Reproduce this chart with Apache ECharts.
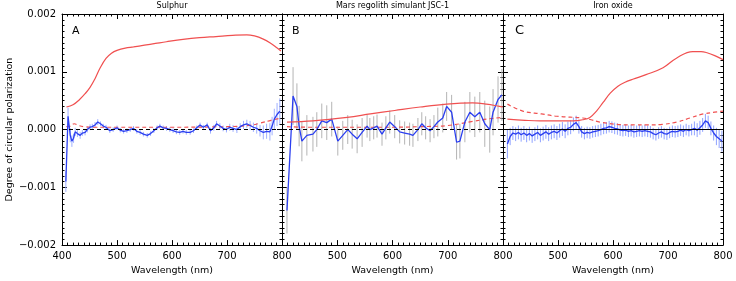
<!DOCTYPE html>
<html><head><meta charset="utf-8">
<script src="https://cdn.jsdelivr.net/npm/echarts@6/dist/echarts.min.js"></script>
<style>html,body{margin:0;padding:0;background:#fff}#c{width:736px;height:281px}</style>
</head><body><div id="c"></div><script>
// values in units of 1e-4 (degree of circular polarization)
const panelTitles = ['Sulphur', 'Mars regolith simulant JSC-1', 'Iron oxide'];
const panelLetters = ['A', 'B', 'C'];
const xTicks = [400, 500, 600, 700, 800];
const yTicks = [-20, -10, 0, 10, 20];

// [wavelength, value, error]
const aBlue = [[407,-9,1.8],[411,2.3,1.5],[415,-1,1.2],[418,-2,1.0],[421,-1.5,0.8],[424,-0.4,0.7],[428,-0.7,0.6],[433,-1,0.6],[437,-0.6,0.5],[442,-0.5,0.5],[446,0,0.5],[451,0.4,0.5],[455,0.5,0.5],[460,0.8,0.5],[465,1.3,0.5],[470,1,0.4],[475,0.6,0.4],[480,0.4,0.4],[487,-0.2,0.4],[493,0,0.4],[500,0.3,0.4],[506,-0.1,0.4],[512,-0.3,0.4],[518,-0.2,0.4],[524,0,0.4],[530,0.2,0.4],[536,-0.3,0.4],[542,-0.5,0.4],[548,-0.8,0.4],[555,-1,0.4],[561,-0.7,0.4],[567,-0.2,0.4],[573,0.3,0.4],[578,0.6,0.4],[584,0.3,0.4],[590,0.2,0.4],[596,0,0.4],[602,-0.2,0.4],[608,-0.4,0.4],[614,-0.5,0.4],[620,-0.3,0.4],[626,-0.5,0.4],[633,-0.5,0.4],[639,-0.2,0.4],[645,0.3,0.4],[651,0.8,0.4],[657,0.4,0.4],[664,0.8,0.4],[670,-0.2,0.5],[676,0.3,0.5],[681,1,0.5],[687,0.6,0.5],[693,0.2,0.5],[699,0,0.5],[705,0.4,0.6],[711,0.2,0.6],[718,0,0.6],[724,0.5,0.6],[730,0.8,0.7],[736,1,0.7],[742,0.7,0.8],[748,0.4,0.8],[754,0.2,0.9],[760,-0.2,1.0],[766,-0.5,1.2],[772,-0.3,1.3],[778,-0.4,1.5],[782,0.6,1.6],[786,1.8,1.8],[791,2.6,2.0],[796,3.2,2.2]];
const aRed = [[408,3.9],[420,4.3],[432,5.2],[442,6.2],[451,7.3],[460,8.8],[469,10.6],[480,12.3],[490,13.2],[500,13.7],[515,14.1],[530,14.3],[550,14.6],[570,14.9],[590,15.2],[620,15.6],[650,15.9],[680,16.1],[710,16.3],[736,16.4],[750,16.2],[765,15.7],[780,14.9],[790,14.2],[798,13.6]];
const aRedDash = [[408,0.5],[415,0.6],[422,1.0],[430,0.7],[440,0.5],[460,0.4],[500,0.4],[600,0.4],[700,0.5],[740,0.7],[760,1.1],[780,1.6],[798,2.0]];

const bBlue = [[409,-14,4],[420,5.8,5],[427,4,4],[431,0.6,3.5],[436,-2,3.5],[445,-1,3.5],[456,-0.8,3],[463,0,3],[472,1.5,3],[481,1.2,3],[490,1.8,3],[501,-2,2.5],[510,-1,2.5],[519,0,2.5],[527,-0.8,2.5],[536,-1.6,2.5],[545,-0.5,2.5],[554,0.6,2],[559,0,2],[566,0.3,2],[572,0.6,2],[581,-0.8,2],[588,0.3,2],[595,1.3,2],[604,0.5,2],[613,-0.4,2],[622,-0.6,2],[631,-0.8,2],[637,-1,2],[646,0,2],[653,1,2],[660,0.3,2],[668,-0.2,2],[675,0.5,2],[682,1.3,2.5],[691,2,2.5],[698,4,2.5],[707,3,3],[716,-2.2,3],[722,-2,3],[731,1.3,3.5],[740,3,3.5],[749,2.2,3.5],[758,3,3.5],[767,1,4],[776,0,4],[782,3,4],[791,5.2,4],[798,6,4.5]];
const bRed = [[409,1.3],[456,1.5],[518,2.1],[560,2.7],[604,3.3],[650,3.9],[698,4.4],[745,4.6],[770,4.4],[794,4.0],[800,3.9]];
const bRedDash = [[409,0.5],[450,0.4],[500,0.4],[600,0.4],[650,0.5],[700,0.7],[745,1.4],[770,1.8],[798,2.1]];

const cBlue = [[408,-2.5,2.5],[413,-1.2,1.5],[418,-0.6,1.2],[423,-0.8,1.2],[428,-0.5,1.2],[433,-0.9,1.2],[438,-0.6,1.2],[443,-1.0,1.2],[448,-0.7,1.2],[453,-1.1,1.2],[458,-0.8,1.2],[463,-0.5,1.2],[468,-1.0,1.2],[473,-0.7,1.2],[478,-0.4,1.2],[483,-0.8,1.2],[488,-0.5,1.2],[493,-0.3,1.2],[498,-0.6,1.2],[503,-0.2,1.2],[508,0.1,1.2],[513,-0.3,1.2],[518,0.2,1.2],[523,0.4,1.2],[528,0.9,1.2],[533,1.2,1.2],[538,0.5,1.2],[543,-0.4,1.0],[548,-0.7,1.0],[553,-0.5,1.0],[558,-0.6,1.0],[563,-0.4,1.0],[568,-0.3,1.0],[573,-0.2,1.0],[578,0,1.0],[583,0.2,1.0],[588,0.3,1.0],[593,0.5,1.0],[598,0.4,1.0],[603,0.2,1.0],[608,0.1,1.0],[613,-0.1,1.0],[618,-0.2,1.0],[623,-0.1,1.0],[628,-0.3,1.0],[633,-0.2,1.0],[638,-0.4,1.0],[643,-0.3,1.0],[648,-0.2,1.0],[653,-0.3,1.0],[658,-0.2,1.0],[663,-0.3,1.0],[668,-0.4,1.0],[673,-0.7,1.0],[678,-0.9,1.0],[683,-0.6,1.0],[688,-0.4,1.0],[693,-0.7,1.0],[698,-0.8,1.0],[703,-0.5,1.0],[708,-0.3,1.0],[713,-0.4,1.0],[718,-0.3,1.0],[723,-0.1,1.0],[728,-0.3,1.0],[733,0,1.0],[738,-0.2,1.0],[743,0,1.0],[748,0.2,1.2],[753,-0.1,1.2],[758,0.3,1.2],[763,0.8,1.2],[768,1.5,1.2],[773,1.2,1.2],[778,0.2,1.2],[783,-0.6,1.3],[788,-1.2,1.5],[793,-1.6,1.6],[798,-2,1.8]];
const cRed = [[408,1.8],[440,1.6],[467,1.5],[500,1.5],[527,1.5],[545,1.7],[558,2.1],[570,3.2],[582,4.7],[595,6.3],[609,7.5],[622,8.2],[636,8.7],[660,9.5],[691,10.7],[716,12.4],[745,13.5],[760,13.5],[771,13.3],[785,12.8],[800,12.1]];
const cRedDash = [[408,4.4],[436,3.2],[470,2.7],[498,2.3],[545,2.0],[560,1.7],[576,1.3],[607,0.9],[640,0.8],[662,0.8],[690,0.9],[716,1.3],[740,2.0],[764,2.7],[785,3.0],[800,3.2]];

const panels = [
  {blue: aBlue, red: aRed, redDash: aRedDash, errColor: '#9fb0ff', zeroType: [4,3]},
  {blue: bBlue, red: bRed, redDash: bRedDash, errColor: '#b4b4b4', zeroType: [4,3]},
  {blue: cBlue, red: cRed, redDash: cRedDash, errColor: '#8fa2ff', zeroType: 'solid'}
];

const FONT = 'DejaVu Sans';
const grids = [
  {left: 62, top: 14, width: 220, height: 233},
  {left: 282, top: 14, width: 221, height: 233},
  {left: 503, top: 14, width: 220, height: 233}
];

function xAx(i, pos) {
  const bottom = pos === 'bottom';
  return {
    gridIndex: i, type: 'value', min: xTicks[0], max: xTicks[xTicks.length-1], interval: 100, position: pos,
    axisLine: {show: true, onZero: false, lineStyle: {color: '#000', width: 1}},
    axisTick: {show: true, inside: true, length: 5, lineStyle: {color: '#000'}},
    minorTick: {show: true, splitNumber: 10, length: 2.5, lineStyle: {color: '#000'}},
    splitLine: {show: false},
    axisLabel: {show: bottom, color: '#000', fontSize: 10, fontFamily: FONT, margin: 6,
      showMinLabel: i === 0, showMaxLabel: true},
    name: bottom ? 'Wavelength (nm)' : '', nameLocation: 'middle', nameGap: 20,
    nameTextStyle: {color: '#000', fontSize: 9.5, fontFamily: FONT}
  };
}
function yAx(i, pos) {
  const left = pos === 'left';
  return {
    gridIndex: i, type: 'value', min: yTicks[0], max: yTicks[yTicks.length-1], interval: 10, position: pos,
    axisLine: {show: true, onZero: false, lineStyle: {color: '#000', width: 1}},
    axisTick: {show: true, inside: true, length: 5, lineStyle: {color: '#000'}},
    minorTick: {show: true, splitNumber: 10, length: 2.5, lineStyle: {color: '#000'}},
    splitLine: {show: false},
    axisLabel: {show: left && i === 0, color: '#000', fontSize: 10, fontFamily: FONT, margin: 6,
      formatter: v => (v < 0 ? '\u2212' : '') + (Math.abs(v) / 10000).toFixed(3)},
    name: (left && i === 0) ? 'Degree of circular polarization' : '', nameLocation: 'middle', nameGap: 47,
    nameTextStyle: {color: '#000', fontSize: 9.5, fontFamily: FONT}
  };
}

const xAxis = [0,1,2].map(i => xAx(i, 'bottom')).concat([0,1,2].map(i => xAx(i, 'top')));
const yAxis = [0,1,2].map(i => yAx(i, 'left')).concat([0,1,2].map(i => yAx(i, 'right')));

const series = [];
panels.forEach((p, i) => {
  series.push({
    type: 'custom', xAxisIndex: i, yAxisIndex: i, clip: true, silent: true,
    data: p.blue.map(r => [r[0], r[1] - r[2], r[1] + r[2]]),
    encode: {x: 0, y: [1, 2]},
    renderItem: (params, api) => {
      const a = api.coord([api.value(0), api.value(1)]);
      const b = api.coord([api.value(0), api.value(2)]);
      return {type: 'line', shape: {x1: a[0], y1: a[1], x2: b[0], y2: b[1]},
        style: {stroke: p.errColor, lineWidth: 1}};
    },
    z: 1
  });
  series.push({
    type: 'line', xAxisIndex: i, yAxisIndex: i, data: p.redDash, smooth: 0.4, showSymbol: false,
    lineStyle: {color: '#f05050', width: 1.2, type: [4, 3]}, z: 2
  });
  series.push({
    type: 'line', xAxisIndex: i, yAxisIndex: i, data: p.blue.map(r => [r[0], r[1]]), showSymbol: false,
    lineStyle: {color: '#2b3ff0', width: 1.3}, z: 3,
    markLine: {silent: true, symbol: ['none', 'none'], label: {show: false},
      lineStyle: {color: '#000', width: 1, type: p.zeroType}, data: [{yAxis: 0}]}
  });
  series.push({
    type: 'line', xAxisIndex: i, yAxisIndex: i, data: p.red, smooth: 0.4, showSymbol: false,
    lineStyle: {color: '#f05050', width: 1.2}, z: 4
  });
});

const centers = grids.map(g => g.left + g.width / 2);
const graphic = panelTitles.map((t, i) => ({
  type: 'text', x: centers[i], y: 6,
  style: {text: t, fill: '#000', font: '8px "' + FONT + '"', textAlign: 'center', textVerticalAlign: 'middle'}
})).concat(panelLetters.map((t, i) => ({
  type: 'text', x: grids[i].left + 10 + (i === 2 ? 2 : 0), y: 31,
  style: {text: t, fill: '#000', font: (i === 2 ? '13px' : '11px') + ' "' + FONT + '"', textAlign: 'left', textVerticalAlign: 'middle'}
})));

const chart = echarts.init(document.getElementById('c'), null, {renderer: 'canvas'});
chart.setOption({
  animation: false,
  backgroundColor: '#fff',
  grid: grids,
  xAxis: xAxis,
  yAxis: yAxis,
  series: series,
  graphic: graphic
});
</script></body></html>
